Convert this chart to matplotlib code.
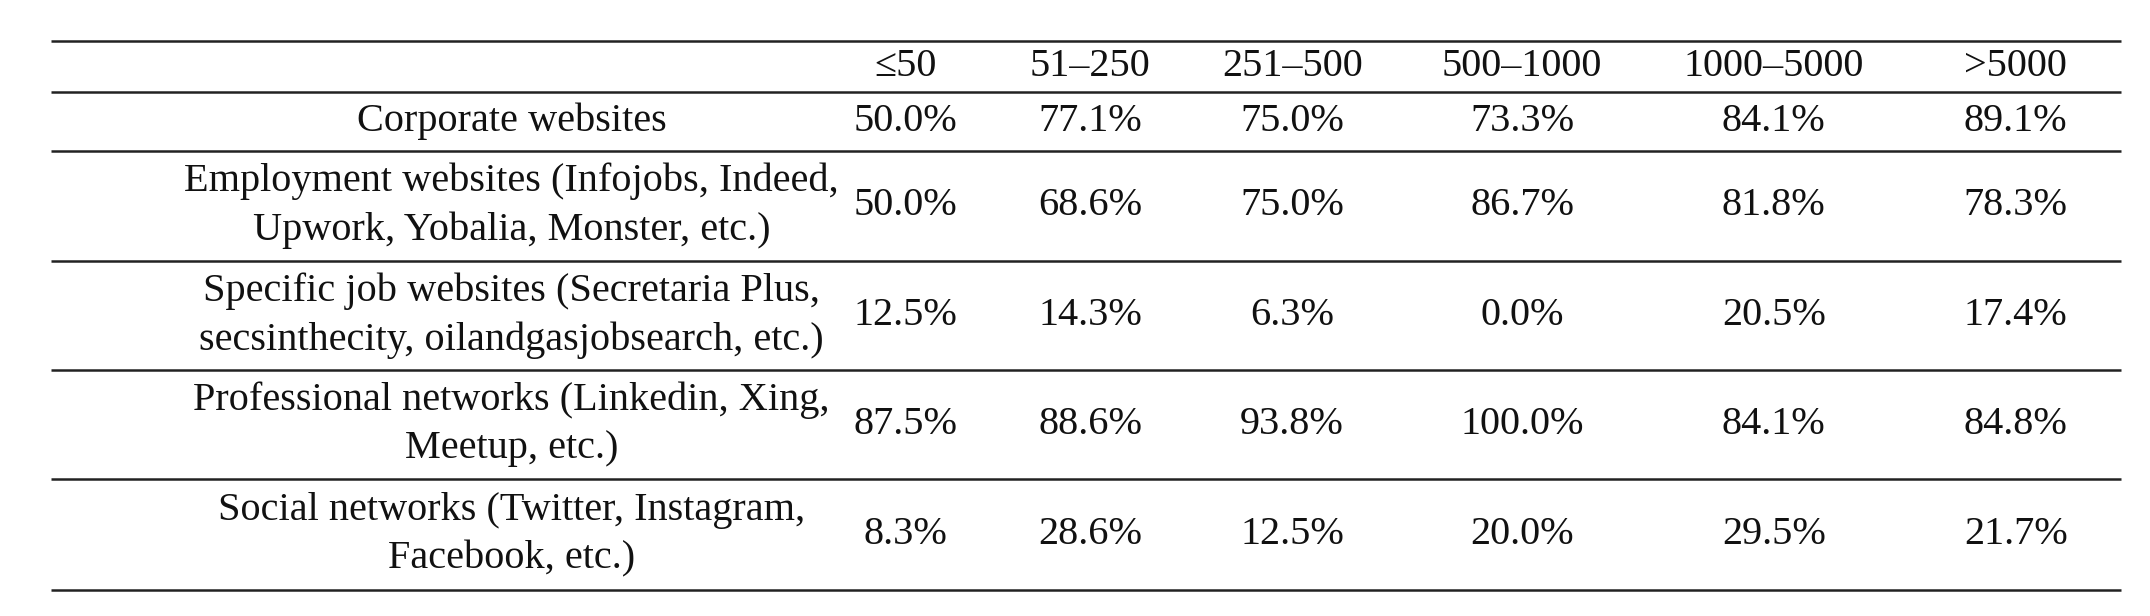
import matplotlib
matplotlib.use("Agg")
import matplotlib.pyplot as plt

columns = ["≤50", "51–250", "251–500", "500–1000", "1000–5000", ">5000"]
rows = ["Corporate websites",
        "Employment websites (Infojobs, Indeed,\nUpwork, Yobalia, Monster, etc.)",
        "Specific job websites (Secretaria Plus,\nsecsinthecity, oilandgasjobsearch, etc.)",
        "Professional networks (Linkedin, Xing,\nMeetup, etc.)",
        "Social networks (Twitter, Instagram,\nFacebook, etc.)"]
values = [
    ["50.0%", "77.1%", "75.0%", "73.3%", "84.1%", "89.1%"],
    ["50.0%", "68.6%", "75.0%", "86.7%", "81.8%", "78.3%"],
    ["12.5%", "14.3%", "6.3%", "0.0%", "20.5%", "17.4%"],
    ["87.5%", "88.6%", "93.8%", "100.0%", "84.1%", "84.8%"],
    ["8.3%", "28.6%", "12.5%", "20.0%", "29.5%", "21.7%"],
]

fig = plt.figure(figsize=(21.5, 6.16), dpi=100)
ax = fig.add_axes([0, 0, 1, 1])
ax.set_xlim(0, 1); ax.set_ylim(1, 0); ax.axis("off")

font = dict(family="Liberation Serif", fontsize=29, color="#111111")
lines_y = [0.0668, 0.149, 0.245, 0.423, 0.601, 0.777, 0.958]
x0, x1 = 0.0236, 0.9866
label_x = 0.238
col_x = [0.421, 0.507, 0.601, 0.708, 0.825, 0.9375]

for y in lines_y:
    ax.plot([x0, x1], [y, y], color="#222222", lw=1.8, solid_capstyle="butt")

hy = (lines_y[0] + lines_y[1]) / 2
for cx, c in zip(col_x, columns):
    ax.text(cx, hy, c, ha="center", va="center", **font)

for i, (r, vals) in enumerate(zip(rows, values)):
    cy = (lines_y[i + 1] + lines_y[i + 2]) / 2
    ax.text(label_x, cy, r, ha="center", va="center", linespacing=1.4, **font)
    for cx, v in zip(col_x, vals):
        ax.text(cx, cy, v, ha="center", va="center", **font)

fig.savefig("out.png", dpi=100, facecolor="white")
